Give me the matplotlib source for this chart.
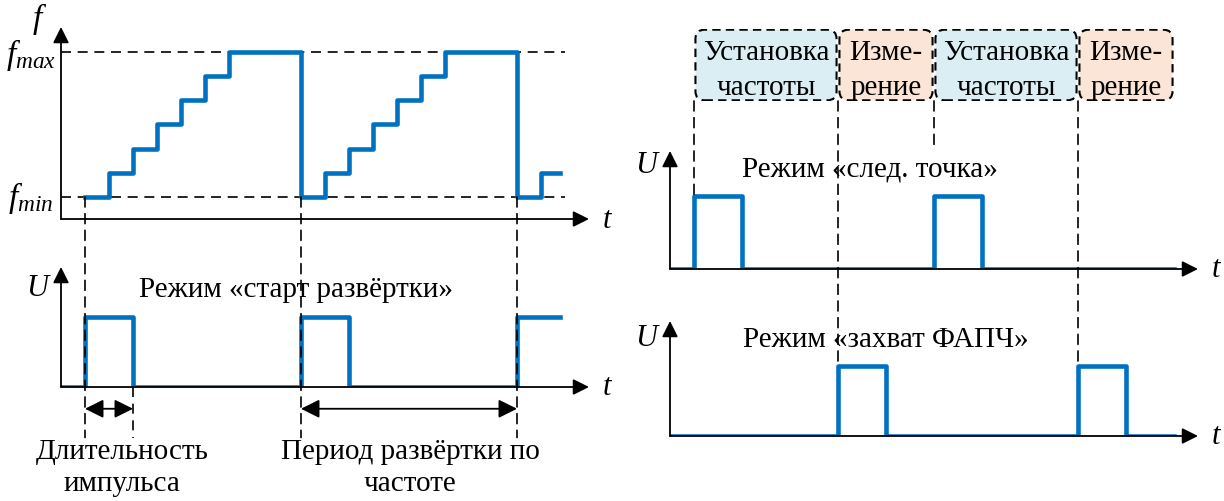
import matplotlib
matplotlib.use("Agg")
import matplotlib.pyplot as plt
from matplotlib.patches import FancyBboxPatch, ConnectionPatch

plt.rcParams['font.family'] = ['Liberation Serif', 'DejaVu Serif']
plt.rcParams['mathtext.fontset'] = 'custom'
plt.rcParams['mathtext.rm'] = 'Liberation Serif'
plt.rcParams['mathtext.it'] = 'Liberation Serif:italic'

# --- data (time in step units) ---
f_t = [0, 1, 2, 3, 4, 5, 6, 9, 10, 11, 12, 13, 14, 15, 18, 19, 19.8]
f_level = [0, 1, 2, 3, 4, 5, 6, 0, 1, 2, 3, 4, 5, 6, 0, 1, 1]
f_min, f_max = 0, 6

sweep_t = [-1, 0, 2, 9, 11, 18, 19.8]
sweep_u = [0, 1, 0, 1, 0, 1, 1]

next_t = [-1, 0, 2, 10, 12, 20]
next_u = [0, 1, 0, 1, 0, 0]

pll_t = [-1, 6, 8, 16, 18, 20]
pll_u = [0, 1, 0, 1, 0, 0]

stage_edges = [0, 6, 10, 16, 20]
stage_names = ["Установка\nчастоты", "Изме-\nрение", "Установка\nчастоты", "Изме-\nрение"]
stage_colors = ["#DAEEF3", "#FBE5D6", "#DAEEF3", "#FBE5D6"]

BLUE = "#0070C0"
W, H = 1224, 502
FS = 21

fig = plt.figure(figsize=(W / 100, H / 100), dpi=100)


def panel(x0, x1, y_top, y_bot, xlim, ylim):
    ax = fig.add_axes([x0 / W, 1 - y_bot / H, (x1 - x0) / W, (y_bot - y_top) / H])
    ax.set_xlim(*xlim)
    ax.set_ylim(*ylim)
    ax.axis('off')
    return ax


def axes_arrows(ax, x_end, y_end, ylab, y_lab):
    kw = dict(arrowstyle='-|>', mutation_scale=24, lw=1.3, color='black',
              shrinkA=0, shrinkB=0)
    x0, _ = ax.get_xlim()
    y0, _ = ax.get_ylim()
    ax.annotate('', xy=(x_end, y0), xytext=(x0, y0), arrowprops=kw, annotation_clip=False)
    ax.annotate('', xy=(x0, y_end), xytext=(x0, y0), arrowprops=kw, annotation_clip=False)
    ax.text(x_end + 0.75, y0, 't', style='italic', fontsize=FS + 1, ha='center', va='center')
    if ylab:
        ax.text(x0 - 1.0, y_lab, ylab, style='italic', fontsize=FS + 1, ha='center', va='center')


def link(axA, xyA, axB, xyB):
    con = ConnectionPatch(xyA, xyB, 'data', 'data', axesA=axA, axesB=axB,
                          color='black', lw=1.2, ls=dash)
    con.set_annotation_clip(False)
    fig.add_artist(con)


dash = (0, (6, 4))

# f(t) panel
ax_f = panel(61, 589, 28, 220, (-1, 21), (-0.91, 7.03))
ax_f.plot([-1, 20], [f_min, f_min], color='black', lw=1.2, ls=dash)
ax_f.plot([-1, 20], [f_max, f_max], color='black', lw=1.2, ls=dash)
ax_f.step(f_t, f_level, where='post', color=BLUE, lw=3.3, zorder=3)
axes_arrows(ax_f, 21, 7.03, '', 0)
ax_f.text(-1.9, 7.42, '$f$', fontsize=FS + 3, ha='center', va='center')
ax_f.text(-2.25, f_max - 0.1, '$f_{max}$', fontsize=FS + 3, ha='center', va='center')
ax_f.text(-2.25, f_min, '$f_{min}$', fontsize=FS + 3, ha='center', va='center')

# left U panel: sweep start
ax_u = panel(61, 589, 268, 388, (-1, 21), (0, 1.71))
ax_u.step(sweep_t, sweep_u, where='post', color=BLUE, lw=3.3, zorder=3)
axes_arrows(ax_u, 21, 1.71, 'U', 1.42)
ax_u.text(8.8, 1.4, 'Режим «старт развёртки»', fontsize=FS, ha='center', va='center')
arr = dict(arrowstyle='<|-|>', mutation_scale=28, lw=1.3, color='black', shrinkA=0, shrinkB=0)
ax_u.annotate('', xy=(2, -0.31), xytext=(0, -0.31), arrowprops=arr, annotation_clip=False)
ax_u.annotate('', xy=(18, -0.31), xytext=(9, -0.31), arrowprops=arr, annotation_clip=False)
ax_u.text(1.55, -1.14, 'Длительность\nимпульса', fontsize=FS, ha='center', va='center',
          linespacing=1.3)
ax_u.text(13.55, -1.14, 'Период развёртки по\nчастоте', fontsize=FS, ha='center', va='center',
          linespacing=1.3)

for t in [0, 9, 18]:
    link(ax_f, (t, f_min), ax_u, (t, -0.72))
ax_u.plot([2, 2], [0, -0.72], color='black', lw=1.2, ls=dash, clip_on=False)

# stage boxes
ax_b = panel(670, 1198, 30, 102, (-1, 21), (0, 3))
for i, name in enumerate(stage_names):
    a, b = stage_edges[i], stage_edges[i + 1]
    box = FancyBboxPatch((a + 0.06, 0.03), b - a - 0.12, 2.94,
                         boxstyle='round,pad=0,rounding_size=0.38',
                         fc=stage_colors[i], ec='black', lw=1.5, ls=(0, (4, 2.5)))
    ax_b.add_patch(box)
    ax_b.text((a + b) / 2, 1.33, name, fontsize=FS, ha='center', va='center', linespacing=1.45)

# right top: next point
ax_n = panel(670, 1198, 152, 270, (-1, 21), (0, 1.62))
ax_n.step(next_t, next_u, where='post', color=BLUE, lw=3.3, zorder=3)
axes_arrows(ax_n, 21, 1.62, 'U', 1.44)
ax_n.text(7.35, 1.38, 'Режим «след. точка»', fontsize=FS, ha='center', va='center')

# right bottom: PLL capture
ax_p = panel(670, 1198, 322, 437, (-1, 21), (0, 1.64))
ax_p.step(pll_t, pll_u, where='post', color=BLUE, lw=3.3, zorder=3)
axes_arrows(ax_p, 21, 1.64, 'U', 1.41)
ax_p.text(8.0, 1.38, 'Режим «захват ФАПЧ»', fontsize=FS, ha='center', va='center')

for t, ax_to, y_to in [(0, ax_n, 1), (6, ax_p, 1), (10, ax_n, 1.67), (16, ax_p, 1)]:
    link(ax_b, (t, 0), ax_to, (t, y_to))

fig.savefig('out.png', dpi=100)
